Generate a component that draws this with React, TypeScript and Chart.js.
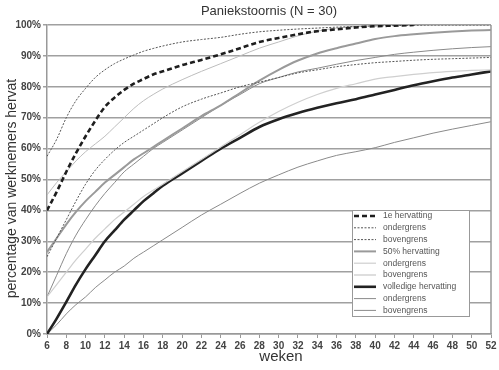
import React, { useEffect, useRef } from 'react';
import { Chart, registerables } from 'chart.js';

Chart.register(...registerables);

const chartTitle = 'Paniekstoornis (N = 30)';
const xTitle = 'weken';
const yTitle = 'percentage van werknemers hervat';

const weeks = [6, 7, 8, 9, 10, 11, 12, 13, 14, 15, 16, 17, 18, 20, 22, 24, 26, 28, 30, 32, 34, 36, 38, 40, 42, 44, 46, 48, 50, 52];

const eersteHervatting = [40, 46, 52.5, 58.5, 64, 69, 73.5, 76.5, 79, 81, 82.5, 84, 85, 87, 88.7, 90.5, 92.5, 94.5, 95.8, 97, 98, 98.6, 99.2, 99.6, 99.8, 100, null, null, null, null];
const eersteOnder = [25, 31, 37, 43, 48.5, 53, 56.5, 59.5, 62, 64, 66, 68, 70, 73.5, 76, 78, 80, 81.5, 83, 84.5, 85.5, 86.5, 87.2, 87.8, 88.2, 88.6, 88.9, 89.1, 89.3, 89.5];
const eersteBoven = [57.5, 63, 70, 75.5, 79.5, 83, 85.5, 87.5, 89, 90.3, 91.5, 92.4, 93.2, 94.5, 95.3, 96, 97, 97.8, 98.3, 98.7, 99, 99.3, 99.5, 99.7, 99.8, 99.9, 100, 100, 100, 100];

const halfHervatting = [26.5, 31, 35.5, 39.5, 43, 46, 49, 51.5, 54, 56.5, 58.5, 60.5, 62.5, 66.5, 70.5, 74, 78, 82, 85.5, 88.5, 90.8, 92.5, 94, 95.5, 96.4, 97, 97.5, 97.9, 98.2, 98.4];
const halfOnder = [12, 16, 20, 24, 27.5, 31, 34, 37, 39.5, 42, 44.5, 46.5, 48.5, 52.5, 56.5, 60.5, 64.5, 68.5, 72, 75, 77.5, 79.5, 81, 82.5, 83.3, 84, 84.6, 85, 85.3, 85.5];
const halfBoven = [45, 49, 52.5, 56, 59, 61.5, 64, 67, 70, 73, 75.5, 77.5, 79.3, 82.3, 85, 87.5, 90, 92.5, 94.5, 96.5, 98, 99, 99.5, 99.8, 100, 100, 100, 100, 100, 100];

const volledigeHervatting = [0, 5, 10.4, 16, 21, 25.5, 30, 33.5, 37, 40, 43, 45.5, 48, 52, 56, 60, 63.5, 67, 69.5, 71.5, 73.2, 74.7, 76, 77.5, 79, 80.5, 81.8, 83, 84, 85];
const volledigeOnder = [0, 3, 6.5, 9.5, 12, 15, 17.5, 20, 22, 24.5, 26.5, 28.5, 30.5, 34.5, 38.5, 42, 45.5, 48.8, 51.5, 54, 56, 57.8, 59, 60.3, 62, 63.5, 65, 66.3, 67.5, 68.7];
const volledigeBoven = [12, 19, 26, 32, 37, 41.5, 45.5, 49, 52.5, 55, 57.5, 60, 62, 66, 70, 74, 77.5, 81, 83, 84.8, 86, 87.3, 88.5, 89.5, 90.5, 91.2, 91.8, 92.3, 92.7, 93];

const seriesLabels = ['1e hervatting', 'ondergrens', 'bovengrens', '50% hervatting', 'ondergrens', 'bovengrens', 'volledige hervatting', 'ondergrens', 'bovengrens'];
const seriesValues = [eersteHervatting, eersteOnder, eersteBoven, halfHervatting, halfOnder, halfBoven, volledigeHervatting, volledigeOnder, volledigeBoven];

const yMin = 0;
const yMax = 100;
const yStep = 10;
const xMin = 6;
const xMax = 52;
const xStep = 2;

const styles = [
  { color: '#1e1e1e', width: 2.6, dash: [5, 3] },
  { color: '#555555', width: 1, dash: [2, 1.5] },
  { color: '#555555', width: 1, dash: [2, 1.5] },
  { color: '#9a9a9a', width: 2, dash: [] },
  { color: '#cfcfcf', width: 1.2, dash: [] },
  { color: '#bdbdbd', width: 1, dash: [] },
  { color: '#222222', width: 2.6, dash: [] },
  { color: '#8a8a8a', width: 1, dash: [] },
  { color: '#8a8a8a', width: 1, dash: [] },
];

const FONT = '"Liberation Sans", Arial, Helvetica, sans-serif';

const decorPlugin = {
  id: 'decor',
  afterDraw(chart: any) {
    const { ctx, chartArea } = chart;
    ctx.save();
    // right border
    ctx.strokeStyle = '#999';
    ctx.lineWidth = 1.5;
    ctx.beginPath();
    ctx.moveTo(chartArea.right, chartArea.top);
    ctx.lineTo(chartArea.right, chartArea.bottom);
    ctx.stroke();

    // title
    const cx = (chartArea.left + chartArea.right) / 2;
    ctx.fillStyle = '#333';
    ctx.textAlign = 'center';
    ctx.textBaseline = 'middle';
    ctx.font = `13px ${FONT}`;
    ctx.fillText(chartTitle, cx, 11);

    // x title
    ctx.font = `15px ${FONT}`;
    ctx.fillStyle = '#333';
    ctx.fillText(xTitle, cx + 12, chartArea.bottom + 23);

    // y title
    ctx.save();
    ctx.translate(12, (chartArea.top + chartArea.bottom) / 2 + 9);
    ctx.rotate(-Math.PI / 2);
    ctx.font = `14px ${FONT}`;
    ctx.fillText(yTitle, 0, 0);
    ctx.restore();

    // legend box
    const bx = chartArea.right - 139;
    const by = chartArea.bottom - 124;
    const bw = 117;
    const bh = 106;
    ctx.fillStyle = '#fff';
    ctx.fillRect(bx, by, bw, bh);
    ctx.strokeStyle = '#999';
    ctx.lineWidth = 1;
    ctx.strokeRect(bx + 0.5, by + 0.5, bw, bh);
    ctx.textAlign = 'left';
    ctx.font = `8.5px ${FONT}`;
    chart.data.datasets.forEach((ds: any, i: number) => {
      const y = by + 6 + i * 11.8;
      ctx.strokeStyle = ds.borderColor;
      ctx.lineWidth = ds.borderWidth;
      ctx.setLineDash(ds.borderDash || []);
      ctx.beginPath();
      ctx.moveTo(bx + 2, y);
      ctx.lineTo(bx + 24, y);
      ctx.stroke();
      ctx.setLineDash([]);
      ctx.fillStyle = '#555';
      ctx.fillText(ds.label, bx + 31, y);
    });
    ctx.restore();
  },
};

export default function App() {
  const canvasRef = useRef<HTMLCanvasElement | null>(null);

  useEffect(() => {
    const canvas = canvasRef.current;
    if (!canvas) return;
    const datasets = seriesValues.map((vals, i) => ({
      label: seriesLabels[i],
      data: weeks.map((w, j) => ({ x: w, y: vals[j] })),
      borderColor: styles[i].color,
      borderWidth: styles[i].width,
      borderDash: styles[i].dash,
      pointRadius: 0,
      fill: false,
      cubicInterpolationMode: 'monotone' as const,
      spanGaps: false,
    }));
    const chart = new Chart(canvas, {
      type: 'line',
      data: { datasets },
      options: {
        animation: false,
        responsive: false,
        maintainAspectRatio: false,
        layout: { padding: { left: 0, right: 8, top: 25, bottom: 0 } },
        plugins: {
          legend: { display: false },
          title: { display: false },
          tooltip: { enabled: false },
        },
        scales: {
          x: {
            type: 'linear',
            min: xMin,
            max: xMax,
            ticks: {
              stepSize: xStep,
              color: '#444',
              font: { size: 10, family: FONT, weight: 'bold' },
              padding: 2,
              maxRotation: 0,
              autoSkip: false,
            },
            grid: { drawOnChartArea: false, drawTicks: true, tickLength: 4, color: '#999', lineWidth: 1 },
            border: { color: '#999', width: 1.5 },
            afterFit(scale: any) {
              scale.height = 36;
            },
          },
          y: {
            min: yMin,
            max: yMax,
            ticks: {
              stepSize: yStep,
              color: '#444',
              font: { size: 10, family: FONT, weight: 'bold' },
              padding: 2,
              callback: (v: any) => `${v}%`,
            },
            grid: { color: '#a0a0a0', lineWidth: 1.5, tickLength: 4 },
            border: { color: '#999', width: 1.5 },
            afterFit(scale: any) {
              scale.width = 47;
            },
          },
        },
      },
      plugins: [decorPlugin],
    });
    return () => chart.destroy();
  }, []);

  return (
    <div style={{ position: 'absolute', left: 0, top: 0, width: 499, height: 370, background: '#fff' }}>
      <canvas ref={canvasRef} width={499} height={370} style={{ width: 499, height: 370, display: 'block' }} />
    </div>
  );
}
